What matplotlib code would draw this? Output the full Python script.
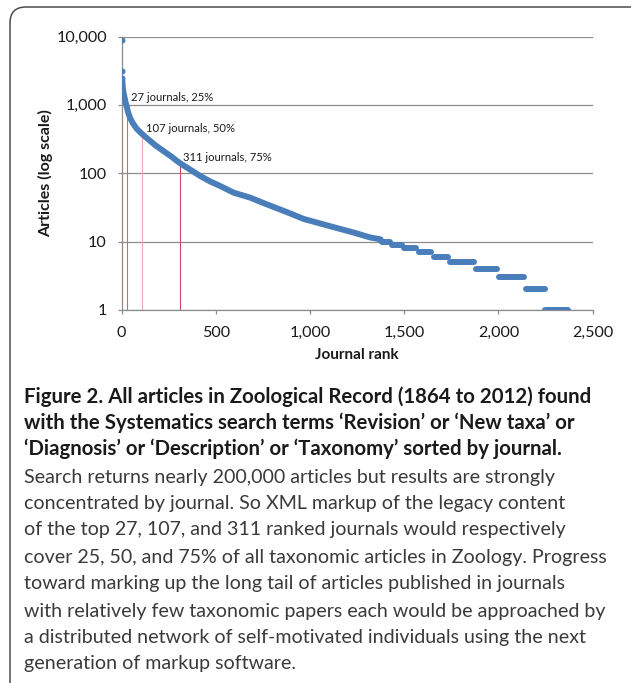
import matplotlib
matplotlib.use('Agg')
import matplotlib.pyplot as plt
from matplotlib.patches import FancyBboxPatch
from matplotlib.ticker import FixedLocator, FixedFormatter, NullLocator

# ---------------- data ----------------
# isolated top-ranked journals
top_ranks = [1, 2, 3, 4, 5]
top_articles = [9000, 3150, 2500, 2250, 2050]

# continuous part of the ranked curve
curve_ranks = [5, 8, 12, 17, 22, 27, 35, 45, 60, 80, 107, 150, 181, 224, 259,
               311, 360, 418, 470, 524, 595, 683, 772, 878, 966, 1055, 1143,
               1231, 1320, 1375]
curve_articles = [2000, 1700, 1450, 1250, 1080, 960, 780, 650, 540, 450, 380,
                  300, 255, 210, 180, 140, 115, 91, 76, 65, 52, 44, 35, 27,
                  21.5, 18.4, 15.8, 13.6, 11.5, 10.8]

# plateaus: runs of journals with equal article counts
plateau_articles = [10, 9, 8, 7, 6, 5, 4, 3, 2, 1]
plateau_first_rank = [1385, 1437, 1499, 1577, 1656, 1744, 1879, 2004, 2146, 2250]
plateau_last_rank = [1425, 1487, 1561, 1641, 1730, 1871, 1992, 2138, 2245, 2369]

# cumulative-share cut-offs
cutoff_ranks = [27, 107, 311]
cutoff_shares = [25, 50, 75]
cutoff_articles = [960, 380, 140]

y_ticks = [1, 10, 100, 1000, 10000]
y_tick_labels = ['1', '10', '100', '1,000', '10,000']
x_ticks = [0, 500, 1000, 1500, 2000, 2500]
x_tick_labels = ['0', '500', '1,000', '1,500', '2,000', '2,500']

caption_bold = [
    "Figure 2. All articles in Zoological Record (1864 to 2012) found",
    "with the Systematics search terms \u2018Revision\u2019 or \u2018New taxa\u2019 or",
    "\u2018Diagnosis\u2019 or \u2018Description\u2019 or \u2018Taxonomy\u2019 sorted by journal.",
]
caption_regular = [
    "Search returns nearly 200,000 articles but results are strongly",
    "concentrated by journal. So XML markup of the legacy content",
    "of the top 27, 107, and 311 ranked journals would respectively",
    "cover 25, 50, and 75% of all taxonomic articles in Zoology. Progress",
    "toward marking up the long tail of articles published in journals",
    "with relatively few taxonomic papers each would be approached by",
    "a distributed network of self-motivated individuals using the next",
    "generation of markup software.",
]

# ---------------- styling ----------------
W, H = 631, 683
BLUE = '#4a7ebb'
GRID = '#8c8c8c'
CUT_COLORS = ['#e06078', '#f4a8b6', '#d04a62']
plt.rcParams['font.family'] = ['Lato', 'DejaVu Sans']

fig = plt.figure(figsize=(W / 100, H / 100), dpi=100)
fig.patch.set_facecolor('white')

# rounded frame (cut by right/bottom edges)
frame = FancyBboxPatch((0.10, -0.5), 7.0, (H - 7) / 100 + 0.5,
                       boxstyle='round,pad=0,rounding_size=0.16',
                       transform=fig.dpi_scale_trans, fill=False,
                       edgecolor='#4d4d4d', linewidth=1.1)
fig.patches.append(frame)

x0, x1 = 121.5, 592.6
y_top, y_bot = 36.5, 310
ax = fig.add_axes([x0 / W, 1 - y_bot / H, (x1 - x0) / W, (y_bot - y_top) / H])
ax.set_yscale('log')
ax.set_xlim(0, 2500)
ax.set_ylim(1, 10000)

ax.yaxis.set_major_locator(FixedLocator(y_ticks))
ax.yaxis.set_major_formatter(FixedFormatter(y_tick_labels))
ax.yaxis.set_minor_locator(NullLocator())
ax.xaxis.set_major_locator(FixedLocator(x_ticks))
ax.xaxis.set_major_formatter(FixedFormatter(x_tick_labels))

ax.yaxis.grid(True, color=GRID, linewidth=0.9, zorder=0)
ax.set_axisbelow(True)
for s in ['top', 'right']:
    ax.spines[s].set_visible(False)
for s in ['left', 'bottom']:
    ax.spines[s].set_color(GRID)
    ax.spines[s].set_linewidth(0.9)
ax.tick_params(axis='both', direction='out', length=3, width=0.9, color=GRID,
               labelsize=11.6, labelcolor='#1a1a1a')
ax.tick_params(axis='y', pad=7.5)
ax.tick_params(axis='x', pad=8.5)

# cut-off lines
ax.vlines(cutoff_ranks, 1, cutoff_articles, colors=CUT_COLORS, linewidth=0.8, zorder=2)

# ranked curve
ax.plot(curve_ranks, curve_articles, color=BLUE, linewidth=4.3,
        solid_capstyle='round', solid_joinstyle='round', zorder=3)
ax.plot(top_ranks, top_articles, 'o', color=BLUE, markersize=4.3,
        markeredgewidth=0, zorder=3)
for v, a, b in zip(plateau_articles, plateau_first_rank, plateau_last_rank):
    ax.plot([a, b], [v, v], color=BLUE, linewidth=4.3, solid_capstyle='round', zorder=3)

offsets = [(4, 9), (4, 5), (3, 6)]
for r, p, v, off in zip(cutoff_ranks, cutoff_shares, cutoff_articles, offsets):
    ax.annotate(f"{r} journals, {p}%", xy=(r, v), xytext=off,
                textcoords='offset pixels', ha='left', va='center',
                fontsize=8.1, color='#1a1a1a', zorder=4)

ax.set_ylabel('Articles (log scale)', fontsize=11.5, fontweight='bold',
              color='#1a1a1a', labelpad=2)
ax.set_xlabel('Journal rank', fontsize=11, fontweight='bold', color='#1a1a1a',
              labelpad=6)

# caption
bold_y = [397, 423, 449]
reg_y = [477, 503, 530, 557, 584, 611, 637, 663]
for t, y in zip(caption_bold, bold_y):
    fig.text(24 / W, 1 - y / H, t, ha='left', va='center', fontsize=14.7,
             fontweight='bold', color='#1a1a1a')
for t, y in zip(caption_regular, reg_y):
    fig.text(24 / W, 1 - y / H, t, ha='left', va='center', fontsize=14.1,
             color='#3a3a3a')

fig.savefig('out.png', dpi=100)
